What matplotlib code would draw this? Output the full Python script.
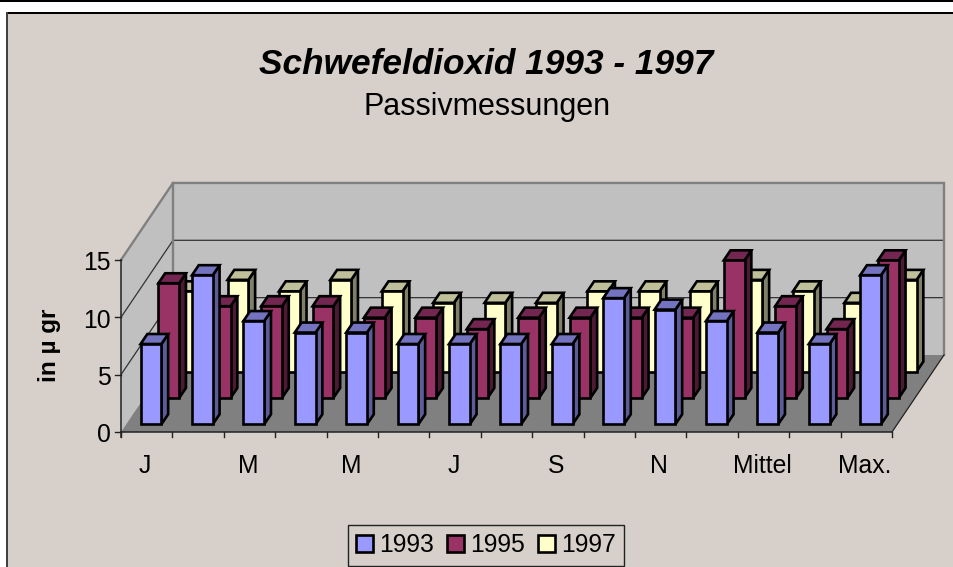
import matplotlib
matplotlib.use("Agg")
import matplotlib.pyplot as plt
from matplotlib.patches import Polygon, Patch, Rectangle

plt.rcParams['font.family'] = ['Liberation Sans', 'DejaVu Sans']

# Werte
months = ["J", "F", "M", "A", "M", "J", "J", "A", "S", "O", "N", "D", "Mittel", "Min.", "Max."]
shown_labels = [0, 2, 4, 6, 8, 10, 12, 14]
y_ticks = [0, 5, 10, 15]
years = ["1993", "1995", "1997"]
values_1993 = [7, 13, 9, 8, 8, 7, 7, 7, 7, 11, 10, 9, 8, 7, 13]
values_1995 = [10, 8, 8, 8, 7, 7, 6, 7, 7, 7, 7, 12, 8, 6, 12]
values_1997 = [7, 8, 7, 8, 7, 6, 6, 6, 7, 7, 7, 8, 7, 6, 8]

front_colors = ["#9999FF", "#993366", "#FFFFCC"]
top_colors = ["#7373BF", "#732650", "#BFBF99"]
side_colors = ["#5C5C99", "#4D1A33", "#80806A"]
BG = "#D7CFC9"

# Pixel pro Einheit, daraus die Achsengrenzen
PX_X = 51.4
PX_Y = 11.47
X0, Y0 = 121, 432
W, H = 954, 567
DEPTH_X = 52 / PX_X
DEPTH_Y = 77 / PX_Y
YMAX = 15


# Schraegprojektion: kategorie, wert, tiefe (0 vorne, 1 hinten)
def proj(x, y, z=0.0):
    return (x + z * DEPTH_X, y + z * DEPTH_Y)


def face(ax, pts, color, edge="black", lw=1.9, z=2):
    ax.add_patch(Polygon([proj(*p) for p in pts], closed=True, facecolor=color,
                         edgecolor=edge, linewidth=lw, joinstyle="miter", zorder=z))


def draw_bar(ax, x, val, series):
    # alle Reihen gleich in x, nur die Tiefe schiebt sie nach rechts
    x0 = x + 0.28
    x1 = x0 + 0.405
    z0 = 0.10 + series * 0.342
    z1 = z0 + 0.13
    face(ax, [(x1, 0, z0), (x1, 0, z1), (x1, val, z1), (x1, val, z0)], side_colors[series])
    face(ax, [(x0, val, z0), (x1, val, z0), (x1, val, z1), (x0, val, z1)], top_colors[series])
    face(ax, [(x0, 0, z0), (x1, 0, z0), (x1, val, z0), (x0, val, z0)], front_colors[series])


fig = plt.figure(figsize=(W / 100, H / 100), dpi=100, facecolor="white")
ax = fig.add_axes([0, 0, 1, 1])
ax.set_xlim(-X0 / PX_X, (W - X0) / PX_X)
ax.set_ylim((Y0 - H) / PX_Y, Y0 / PX_Y)
ax.axis("off")

# Hintergrund mit Rahmen oben und links
ax.add_patch(Rectangle((0, 0), 1, 1, transform=ax.transAxes, facecolor=BG, edgecolor="none", zorder=0))
ax.add_patch(Rectangle((0, 1 - 12.5 / H), 1, 12.5 / H, transform=ax.transAxes, facecolor="white", edgecolor="none", zorder=0.5))
ax.add_patch(Rectangle((0, 0), 7 / W, 1, transform=ax.transAxes, facecolor="white", edgecolor="none", zorder=0.5))
ax.add_patch(Rectangle((0, 1 - 2 / H), 1, 2 / H, transform=ax.transAxes, facecolor="black", edgecolor="none", zorder=0.6))
ax.add_patch(Rectangle((7 / W, 1 - 13.5 / H), 1, 1.5 / H, transform=ax.transAxes, facecolor="black", edgecolor="none", zorder=0.6))
ax.add_patch(Rectangle((6 / W, 0), 2 / W, 1 - 12 / H, transform=ax.transAxes, facecolor="#404040", edgecolor="none", zorder=0.6))

n = len(months)

# Waende und Boden
face(ax, [(0, 0, 1), (n, 0, 1), (n, YMAX, 1), (0, YMAX, 1)], "#C0C0C0", edge="none", z=1)
face(ax, [(0, 0, 0), (0, 0, 1), (0, YMAX, 1), (0, YMAX, 0)], "#C0C0C0", edge="none", z=1)
face(ax, [(0, 0, 0), (n, 0, 0), (n, 0, 1), (0, 0, 1)], "#808080", edge="none", z=1.1)

# Gitterlinien
for t in y_ticks[1:-1]:
    xs, ys = zip(proj(0, t, 0), proj(0, t, 1), proj(n, t, 1))
    ax.plot(xs, ys, color="#333333", lw=0.9, zorder=1.05, solid_joinstyle="miter")

# graue Kanten der Waende
xs, ys = zip(proj(0, YMAX, 0), proj(0, YMAX, 1), proj(n, YMAX, 1), proj(n, 0, 1))
ax.plot(xs, ys, color="#808080", lw=1.7, zorder=1.2, solid_joinstyle="miter")
xs, ys = zip(proj(0, YMAX, 1), proj(0, 0, 1))
ax.plot(xs, ys, color="#808080", lw=1.7, zorder=1.05)

# Achsen und Striche
ax.plot([0, 0], [-5 / PX_Y, YMAX], color="#222222", lw=1.1, zorder=1.3)
ax.plot([0, n], [0, 0], color="#222222", lw=1.1, zorder=1.3)
xs, ys = zip(proj(n, 0, 0), proj(n, 0, 1))
ax.plot(xs, ys, color="#222222", lw=0.9, zorder=1.3)
for i in range(n + 1):
    ax.plot([i, i], [-5 / PX_Y, 0], color="#222222", lw=1.0, zorder=1.3)
for t in y_ticks:
    ax.plot([-6 / PX_X, 0], [t, t], color="#222222", lw=1.0, zorder=1.3)
    ax.text(-10 / PX_X, t - 3.5 / PX_Y, str(t), ha="right", va="center", fontsize=17.8, color="black")

for i in shown_labels:
    ax.text(i + 0.47, -34 / PX_Y, months[i], ha="center", va="center", fontsize=17.8, color="black")

# Saeulen von hinten nach vorne
all_values = [values_1993, values_1995, values_1997]
for s in [2, 1, 0]:
    for i in range(n):
        draw_bar(ax, i, all_values[s][i], s)

# Texte
fig.text(486.5 / W, 1 - 65 / H, "Schwefeldioxid 1993 - 1997", ha="center", va="center",
         fontsize=25.4, fontweight="bold", fontstyle="italic", color="black")
fig.text(487.5 / W, 1 - 107 / H, "Passivmessungen", ha="center", va="center", fontsize=22, color="black")
fig.text(50 / W, 1 - 345.5 / H, "in µ gr", rotation=90, ha="center", va="center",
         fontsize=17.5, fontweight="bold", color="black")

# Legende
handles = [Patch(facecolor=c, edgecolor="black", linewidth=1.9) for c in front_colors]
leg = ax.legend(handles, years, ncol=3, loc="center", bbox_to_anchor=(486 / W, 1 - 545.5 / H),
                bbox_transform=fig.transFigure, fontsize=17.8, frameon=True, fancybox=False,
                facecolor=BG, edgecolor="#222222", framealpha=1, handlelength=0.67, handleheight=0.67,
                handletextpad=0.25, columnspacing=0.55, borderpad=0.33, borderaxespad=0)
leg.get_frame().set_linewidth(1.0)
leg.set_zorder(5)

fig.savefig("out.png", dpi=100, facecolor=fig.get_facecolor())
